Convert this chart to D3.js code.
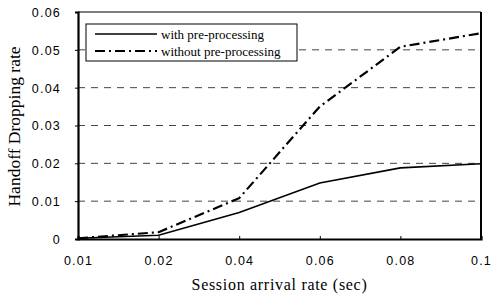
<!DOCTYPE html>
<html>
<head>
<meta charset="utf-8">
<script src="https://cdn.jsdelivr.net/npm/d3@7"></script>
<style>
body { margin:0; background:#fff; }
svg { display:block; }
</style>
</head>
<body>
<div class="plot"></div>
<script>
// data
var rates = ["0.01", "0.02", "0.04", "0.06", "0.08", "0.1"];
var withPre = [0.0002, 0.001, 0.007, 0.0148, 0.0188, 0.0199];
var withoutPre = [0.0002, 0.0018, 0.0108, 0.035, 0.0508, 0.0544];
var yTicks = [0, 0.01, 0.02, 0.03, 0.04, 0.05, 0.06];
var yTickLabels = ["0", "0.01", "0.02", "0.03", "0.04", "0.05", "0.06"];
var seriesNames = ["with pre-processing", "without pre-processing"];

var W = 491, H = 295;
var m = {t:12, r:10, b:56, l:78},
	w = W - m.l - m.r,
	h = H - m.t - m.b;

var svg = d3.select('.plot').append('svg')
	.attr('width', W)
	.attr('height', H);

var g = svg.append('g')
	.attr('transform', 'translate(' + m.l + ',' + m.t + ')');

var x = d3.scalePoint().domain(rates).range([0, w]);
var y = d3.scaleLinear().domain([0, 0.06]).range([h, 0]);

// dashed gridlines
g.selectAll('.grid')
	.data(yTicks.filter(function(d){ return d > 0 && d < 0.06; }))
	.enter().append('line')
	.attr('class', 'grid')
	.attr('x1', 0).attr('x2', w)
	.attr('y1', function(d){ return y(d); })
	.attr('y2', function(d){ return y(d); })
	.style('stroke', '#444')
	.style('stroke-width', 1)
	.style('stroke-dasharray', '7,6');

// plot frame
g.append('line').attr('x1', 0).attr('x2', w).attr('y1', 0).attr('y2', 0)
	.style('stroke', '#000').style('stroke-width', 1.2);
g.append('line').attr('x1', w).attr('x2', w).attr('y1', 0).attr('y2', h)
	.style('stroke', '#000').style('stroke-width', 2);

// axes
var xAxis = d3.axisBottom(x).tickSize(-3).tickPadding(17);
var yAxis = d3.axisLeft(y).tickValues(yTicks).tickSize(3).tickPadding(14)
	.tickFormat(function(d, i){ return yTickLabels[i]; });

var gx = g.append('g').attr('transform', 'translate(0,' + h + ')').call(xAxis);
var gy = g.append('g').call(yAxis);

[gx, gy].forEach(function(a){
	a.select('.domain').style('stroke', '#000').style('stroke-width', 2.2);
	a.selectAll('.tick line').style('stroke', '#000');
	a.selectAll('.tick text')
		.style('font-family', 'Liberation Sans, Arial, sans-serif')
		.style('font-size', '12.5px')
		.style('letter-spacing', '1.2px')
		.style('fill', '#000');
});
gy.selectAll('.tick text').attr('dy', '0.35em');

// lines
var line = d3.line()
	.x(function(d, i){ return x(rates[i]); })
	.y(function(d){ return y(d); });

g.append('path').datum(withPre)
	.attr('d', line)
	.style('fill', 'none')
	.style('stroke', '#000')
	.style('stroke-width', 1.6);

g.append('path').datum(withoutPre)
	.attr('d', line)
	.style('fill', 'none')
	.style('stroke', '#000')
	.style('stroke-width', 2.2)
	.style('stroke-dasharray', '10,4,2,4');

// legend
var lg = g.append('g').attr('transform', 'translate(8,12)');
lg.append('rect')
	.attr('x', 0).attr('y', 0)
	.attr('width', 211).attr('height', 37)
	.style('fill', '#fff')
	.style('stroke', '#000')
	.style('stroke-width', 1);

var dashes = [null, '10,4,2,4'];
seriesNames.forEach(function(name, i){
	var yy = 10 + i * 17;
	lg.append('line')
		.attr('x1', 9).attr('x2', 71)
		.attr('y1', yy).attr('y2', yy)
		.style('stroke', '#000')
		.style('stroke-width', i === 0 ? 1.6 : 2.2)
		.style('stroke-dasharray', dashes[i]);
	lg.append('text')
		.attr('x', 75).attr('y', yy)
		.attr('dy', '0.35em')
		.style('font-family', 'Liberation Serif, Times New Roman, serif')
		.style('font-size', '13px')
		.text(name);
});

// titles
svg.append('text')
	.attr('x', m.l + w / 2)
	.attr('y', 290)
	.attr('text-anchor', 'middle')
	.style('font-family', 'Liberation Serif, Times New Roman, serif')
	.style('font-size', '16px')
	.style('letter-spacing', '0.7px')
	.text('Session arrival rate (sec)');

svg.append('text')
	.attr('transform', 'translate(20,' + (m.t + h / 2 + 1) + ') rotate(-90)')
	.attr('text-anchor', 'middle')
	.style('font-family', 'Liberation Serif, Times New Roman, serif')
	.style('font-size', '17.5px')
	.text('Handoff Dropping rate');
</script>
</body>
</html>
